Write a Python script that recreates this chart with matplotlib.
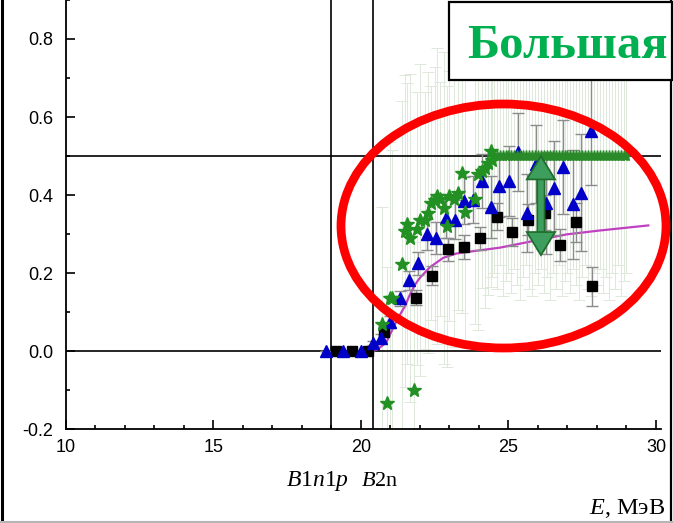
import matplotlib
matplotlib.use("Agg")
import matplotlib.pyplot as plt
import matplotlib.patheffects as pe
from matplotlib.patches import Ellipse, Rectangle
from matplotlib.lines import Line2D
from matplotlib.ticker import MultipleLocator, FormatStrFormatter

plt.rcParams["font.family"] = ["Liberation Sans", "DejaVu Sans"]
plt.rcParams["mathtext.fontset"] = "custom"
plt.rcParams["mathtext.rm"] = "Liberation Serif"
plt.rcParams["mathtext.it"] = "Liberation Serif:italic"

# ---------- data ----------
# blue triangles
tri_x = [18.8, 19.4, 20.0, 20.4, 20.69, 20.98, 21.32, 21.63, 21.93, 22.25, 22.55,
         22.87, 23.17, 23.48, 23.8, 24.09, 24.4, 24.69, 25.01, 25.33, 25.63,
         25.93, 26.27, 26.55, 26.86, 27.18, 27.47, 27.79]
tri_y = [0.0, 0.0, 0.0, 0.02, 0.034, 0.075, 0.135, 0.181, 0.225, 0.299, 0.29,
         0.34, 0.336, 0.385, 0.388, 0.436, 0.37, 0.423, 0.436, 0.511, 0.353,
         0.48, 0.38, 0.418, 0.472, 0.376, 0.406, 0.565]
tri_err = [0, 0, 0, 0.005, 0.01, 0.015, 0.02, 0.025, 0.03, 0.04, 0.04,
           0.05, 0.05, 0.06, 0.06, 0.07, 0.08, 0.08, 0.09, 0.10, 0.10,
           0.10, 0.13, 0.12, 0.12, 0.14, 0.15, 0.14]

# black squares
sq_x = [19.15, 19.69, 20.24, 20.78, 21.88, 22.42, 22.95, 23.49, 24.03, 24.6,
        25.13, 25.67, 26.24, 26.76, 27.3, 27.84]
sq_y = [0.0, 0.0, 0.0, 0.05, 0.137, 0.193, 0.261, 0.267, 0.289, 0.344,
        0.305, 0.337, 0.355, 0.272, 0.33, 0.166]
sq_err = [0, 0, 0, 0.01, 0.02, 0.025, 0.03, 0.03, 0.03, 0.035,
          0.035, 0.04, 0.045, 0.04, 0.05, 0.05]

# green stars (rising part)
star_x = [20.72, 20.89, 20.97, 21.05, 21.38, 21.49, 21.57, 21.66, 21.78, 21.89,
          22.0, 22.17, 22.28, 22.37, 22.51, 22.59, 22.68, 22.82, 22.9, 23.0,
          23.15, 23.3, 23.41, 23.53, 23.87, 23.98, 24.09, 24.2, 24.32, 24.43, 24.41]
star_y = [0.07, -0.134, 0.135, 0.135, 0.222, 0.308, 0.326, 0.289, -0.10, 0.314,
          0.337, 0.335, 0.355, 0.38, 0.387, 0.397, 0.39, 0.367, 0.32, 0.397,
          0.389, 0.406, 0.457, 0.357, 0.389, 0.453, 0.462, 0.47, 0.483, 0.49, 0.513]
star_err = [0.30, 0.35, 0.40, 0.38, 0.42, 0.40, 0.36, 0.42, 0.38, 0.35,
            0.40, 0.33, 0.36, 0.30, 0.34, 0.38, 0.30, 0.40, 0.36, 0.32,
            0.38, 0.30, 0.36, 0.34, 0.32, 0.40, 0.30, 0.36, 0.34, 0.30, 0.35]

# green stars on the 0.5 plateau
plat_x = [24.5, 24.6, 24.7, 24.8, 24.9, 25.0, 25.1, 25.2, 25.3, 25.4,
          25.5, 25.6, 25.7, 25.8, 25.9, 26.0, 26.1, 26.2, 26.3, 26.4,
          26.5, 26.6, 26.7, 26.8, 26.9, 27.0, 27.1, 27.2, 27.3, 27.4,
          27.5, 27.6, 27.7, 27.8, 27.9, 28.0, 28.1, 28.2, 28.3, 28.4,
          28.5, 28.6, 28.7, 28.8, 28.9, 29.0]
plat_y = 0.5
plat_err = [0.30, 0.34, 0.28, 0.36, 0.32, 0.30, 0.35, 0.29, 0.33, 0.37,
            0.31, 0.28, 0.34, 0.36, 0.30, 0.33, 0.29, 0.35, 0.31, 0.37,
            0.30, 0.34, 0.28, 0.36, 0.32, 0.30, 0.35, 0.29, 0.33, 0.37,
            0.31, 0.28, 0.34, 0.36, 0.30, 0.33, 0.29, 0.35, 0.31, 0.37,
            0.30, 0.34, 0.28, 0.36, 0.32, 0.30]

# magenta model curve
curve_x = [20.4, 20.55, 20.85, 21.04, 21.23, 21.49, 21.66, 21.83, 22.0, 22.34,
           22.79, 23.24, 23.81, 24.71, 25.84, 26.97, 28.1, 29.74]
curve_y = [0.0, 0.004, 0.021, 0.051, 0.081, 0.115, 0.145, 0.17, 0.188, 0.215,
           0.239, 0.25, 0.256, 0.265, 0.282, 0.299, 0.309, 0.322]

thresholds = [19.0, 20.4]   # B1n1p, B2n
levels = [0.0, 0.5]
arrow_x, arrow_top, arrow_bottom = 26.1, 0.495, 0.25

W, H = 673, 523
fig = plt.figure(figsize=(W / 100, H / 100), dpi=100)
ax = fig.add_axes([66 / W, 94 / H, 595 / W, 429 / H])

# faint error bars of the stars
fk = dict(fmt="none", ecolor="#dfe9da", elinewidth=0.7, capsize=4, capthick=0.7, zorder=1)
ax.errorbar(star_x, star_y, yerr=star_err, **fk)
ax.errorbar(plat_x, [plat_y] * len(plat_x), yerr=plat_err, **fk)

for lv in levels:
    ax.axhline(lv, color="black", lw=1.2, zorder=2)
for th in thresholds:
    ax.axvline(th, color="black", lw=1.2, zorder=2)

ax.plot(curve_x, curve_y, color="#c040c0", lw=1.6, zorder=3)

ax.errorbar(sq_x, sq_y, yerr=sq_err, fmt="s", color="black", ms=6.5,
            ecolor="#8c8c8c", elinewidth=1, capsize=4, zorder=4)
ax.errorbar(tri_x, tri_y, yerr=tri_err, fmt="^", color="#0000c8", ms=8.5,
            ecolor="#8c8c8c", elinewidth=1, capsize=4, zorder=4)
ax.plot(plat_x, [plat_y] * len(plat_x), "*", color="#2a8a2a", ms=8, zorder=5)
ax.plot(star_x, star_y, "*", color="#229022", ms=10.5, zorder=5)

ax.set_xlim(10, 30.17)
ax.set_ylim(-0.2, 0.9)
ax.xaxis.set_major_locator(MultipleLocator(5))
ax.xaxis.set_minor_locator(MultipleLocator(1))
ax.yaxis.set_major_locator(MultipleLocator(0.2))
ax.yaxis.set_minor_locator(MultipleLocator(0.1))
ax.yaxis.set_major_formatter(FormatStrFormatter("%.1f"))
ax.tick_params(which="major", direction="in", length=6.5, width=1.2, labelsize=13)
ax.tick_params(which="minor", direction="in", length=3, width=1.2)
ax.tick_params(axis="y", pad=9)
ax.tick_params(axis="x", pad=7)
for s in ["top", "right"]:
    ax.spines[s].set_visible(False)
for s in ["left", "bottom"]:
    ax.spines[s].set_linewidth(1.3)

# threshold labels and axis title
fig.text(317 / W, 1 - 481 / H, r"$B1n1p$", fontsize=17, ha="center", va="center")
fig.text(380 / W, 1 - 481 / H, r"$B2\mathrm{n}$", fontsize=16, ha="center", va="center")
fig.text(665 / W, 1 - 509 / H, r"$E$, МэВ", fontsize=17.5, ha="right", va="center",
         family="Liberation Serif")

# green double arrow
ax.annotate("", xy=(arrow_x, arrow_top), xytext=(arrow_x, arrow_bottom),
            arrowprops=dict(arrowstyle="<|-|>,head_length=0.9,head_width=0.55",
                            lw=4, color="#3e9e5e", shrinkA=0, shrinkB=0,
                            joinstyle="miter",
                            path_effects=[pe.Stroke(linewidth=6.5, foreground="#1d6e2a"),
                                          pe.Normal()]),
            zorder=6)

# red ellipse highlight
fig.add_artist(Ellipse((503.5 / W, 1 - 226 / H), 325 / W, 244 / H, fill=False,
                       edgecolor="#ff0000", lw=6.3, transform=fig.transFigure, zorder=10))

# "Большая" box
fig.add_artist(Rectangle((449 / W, 1 - 80 / H), 223 / W, 78 / H, facecolor="white",
                         edgecolor="black", lw=1.6, transform=fig.transFigure, zorder=11))
fig.text(567 / W, 1 - 58 / H, "Большая", family="Liberation Serif", weight="bold",
         fontsize=35, color="#00b050", ha="center", va="baseline", zorder=12)

# slide frame
fig.add_artist(Line2D([1.5 / W, 1.5 / W], [0, 1], color="black", lw=2.2, transform=fig.transFigure))
fig.add_artist(Line2D([670.5 / W, 670.5 / W], [0, 1], color="black", lw=1.6, transform=fig.transFigure))
fig.add_artist(Line2D([0, 1], [1.5 / H, 1.5 / H], color="#b5b5b5", lw=1.5, transform=fig.transFigure))

fig.savefig("out.png", dpi=100)
